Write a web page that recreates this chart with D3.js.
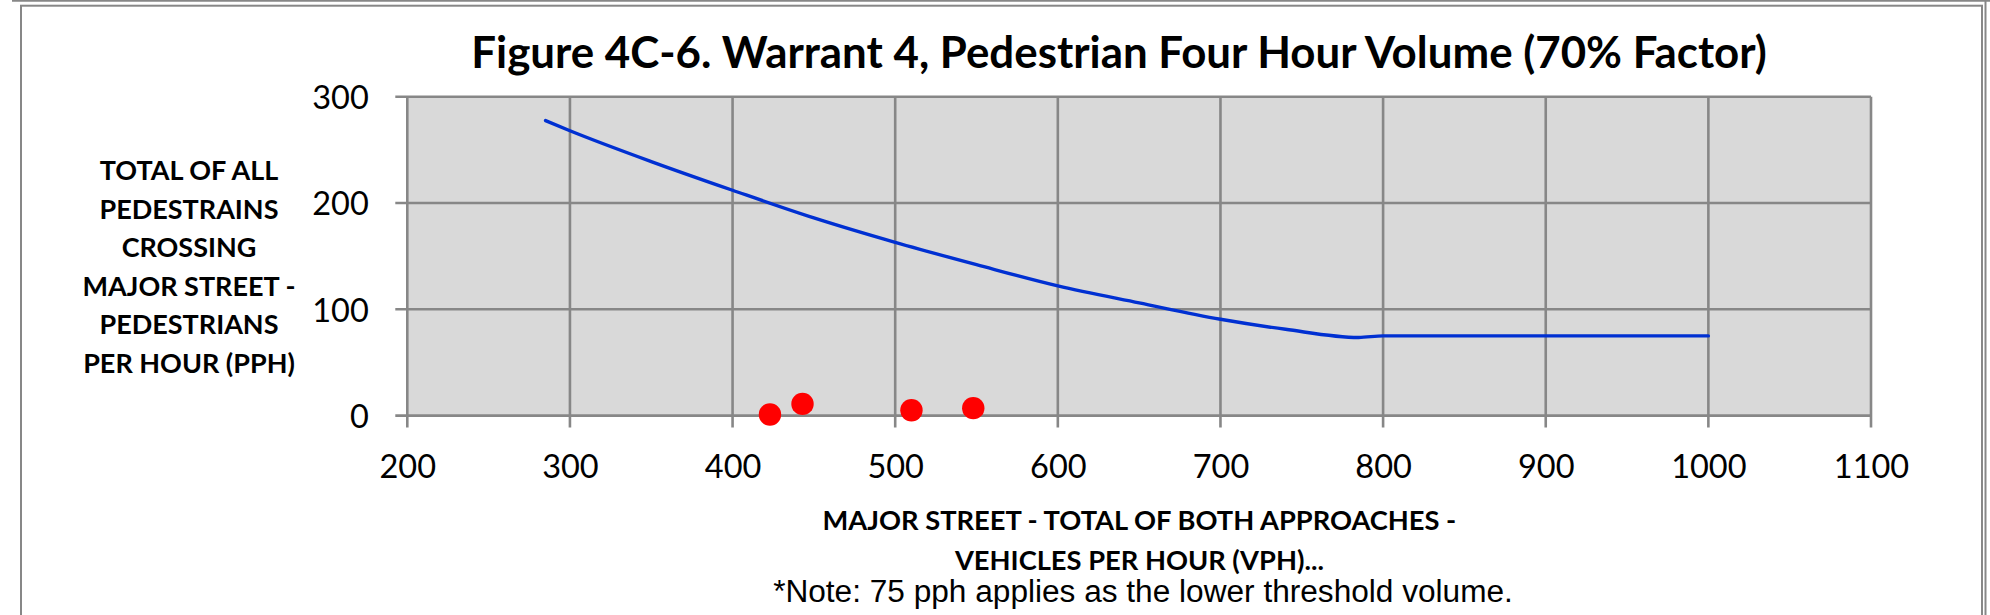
<!DOCTYPE html>
<html>
<head>
<meta charset="utf-8">
<script src="https://cdn.jsdelivr.net/npm/d3@7/dist/d3.min.js"></script>
<style>
  html, body { margin: 0; padding: 0; background: #ffffff; }
  svg { display: block; }
</style>
</head>
<body>
<svg id="chart" width="1990" height="615"></svg>
<script>
// ---- data ----
const curveX = [285, 300, 350, 400, 450, 500, 550, 600, 650, 700, 740, 785, 800, 1000];
const curveY = [277.5, 268, 239, 212, 186, 163, 142, 122, 106, 90.6, 81.2, 73.5, 75, 75];
const obsX = [423, 443, 510, 548];
const obsY = [1, 11, 5, 7];
const xTicks = [200, 300, 400, 500, 600, 700, 800, 900, 1000, 1100];
const yTicks = [0, 100, 200, 300];
const titleText = "Figure 4C-6. Warrant 4, Pedestrian Four Hour Volume (70% Factor)";
const yTitleLines = ["TOTAL OF ALL", "PEDESTRAINS", "CROSSING", "MAJOR STREET -", "PEDESTRIANS", "PER HOUR (PPH)"];
const xTitleLines = ["MAJOR STREET - TOTAL OF BOTH APPROACHES -", "VEHICLES PER HOUR (VPH)..."];
const noteText = "*Note: 75 pph applies as the lower threshold volume.";

// ---- setup ----
const svg = d3.select("#chart");
const gridColor = "#878787";
const calibri = "Lato, 'Open Sans', sans-serif";

const x = d3.scaleLinear().domain([200, 1100]).range([407.3, 1871]);
const y = d3.scaleLinear().domain([0, 300]).range([415.6, 96.7]);

// scale font size of a group of lines so that the reference line reaches the target width
function fitGroup(sel, refIndex, target) {
  const w = sel.nodes()[refIndex].getComputedTextLength();
  const fs = parseFloat(sel.attr("font-size"));
  sel.attr("font-size", fs * target / w);
}

// frames
svg.append("line").attr("x1", 12).attr("x2", 1990).attr("y1", 0.8).attr("y2", 0.8)
  .attr("stroke", gridColor).attr("stroke-width", 2);
svg.append("line").attr("x1", 1985.5).attr("x2", 1985.5).attr("y1", 0).attr("y2", 615)
  .attr("stroke", gridColor).attr("stroke-width", 2);
svg.append("rect").attr("x", 21).attr("y", 5.7).attr("width", 1961).attr("height", 640)
  .attr("fill", "#ffffff").attr("stroke", gridColor).attr("stroke-width", 2);

// plot area
svg.append("rect").attr("x", x(200)).attr("y", y(300))
  .attr("width", x(1100) - x(200)).attr("height", y(0) - y(300))
  .attr("fill", "#d9d9d9");

// grid lines
const grid = svg.append("g");
grid.selectAll("line.gx").data(xTicks).join("line")
  .attr("x1", d => x(d)).attr("x2", d => x(d))
  .attr("y1", y(300)).attr("y2", y(0) + 12)
  .attr("stroke", gridColor).attr("stroke-width", 2.6);
grid.selectAll("line.gy").data(yTicks).join("line")
  .attr("class", "gy")
  .attr("x1", x(200) - 12).attr("x2", x(1100))
  .attr("y1", d => y(d)).attr("y2", d => y(d))
  .attr("stroke", gridColor).attr("stroke-width", 2.6);

// axes labels via d3 axes
const xAxis = svg.append("g").attr("transform", `translate(0,${y(0)})`)
  .call(d3.axisBottom(x).tickValues(xTicks).tickSize(0).tickPadding(0).tickFormat(d3.format("d")));
xAxis.select(".domain").remove();
xAxis.selectAll("text").attr("font-family", calibri).attr("font-size", 32.5)
  .attr("fill", "#000").attr("dy", null).attr("y", 62.5);

const yAxis = svg.append("g").attr("transform", `translate(${x(200)},0)`)
  .call(d3.axisLeft(y).tickValues(yTicks).tickSize(0).tickPadding(0).tickFormat(d3.format("d")));
yAxis.select(".domain").remove();
yAxis.selectAll("text").attr("font-family", calibri).attr("font-size", 32.5)
  .attr("fill", "#000").attr("x", -38.5).attr("dy", "0.36em");

// threshold curve
const pts = curveX.map((d, i) => [d, curveY[i]]);
svg.append("path").datum(pts)
  .attr("d", d3.line().x(d => x(d[0])).y(d => y(d[1])).curve(d3.curveMonotoneX))
  .attr("fill", "none").attr("stroke", "#0030d2").attr("stroke-width", 3.4)
  .attr("stroke-linejoin", "round").attr("stroke-linecap", "round");

// observed points
svg.selectAll("circle.obs").data(obsX.map((d, i) => [d, obsY[i]])).join("circle")
  .attr("class", "obs")
  .attr("cx", d => x(d[0])).attr("cy", d => y(d[1])).attr("r", 11.2)
  .attr("fill", "#ff0000");

// title
const title = svg.append("text").text(titleText)
  .attr("x", 1119).attr("y", 68.3).attr("text-anchor", "middle")
  .attr("font-family", calibri).attr("font-weight", "bold").attr("font-size", 40).attr("fill", "#000");
fitGroup(title, 0, 1296);

// y axis title
const yBase = [180, 219, 257.3, 295.5, 334, 372.5];
const ytTexts = svg.append("g").selectAll("text").data(yTitleLines).join("text")
  .text(d => d)
  .attr("x", 189).attr("y", (d, i) => yBase[i]).attr("text-anchor", "middle")
  .attr("font-family", calibri).attr("font-weight", "bold").attr("font-size", 26).attr("fill", "#000");
fitGroup(ytTexts, 3, 213);

// x axis title
const xBase = [530, 570];
const xtTexts = svg.append("g").selectAll("text").data(xTitleLines).join("text")
  .text(d => d)
  .attr("x", 1139.4).attr("y", (d, i) => xBase[i]).attr("text-anchor", "middle")
  .attr("font-family", calibri).attr("font-weight", "bold").attr("font-size", 26).attr("fill", "#000");
fitGroup(xtTexts, 0, 634);

// note
const note = svg.append("text").text(noteText)
  .attr("x", 1143).attr("y", 601.7).attr("text-anchor", "middle")
  .attr("font-family", "'Liberation Sans', Arial, sans-serif").attr("font-size", 25).attr("fill", "#000");
fitGroup(note, 0, 740);
</script>
</body>
</html>
